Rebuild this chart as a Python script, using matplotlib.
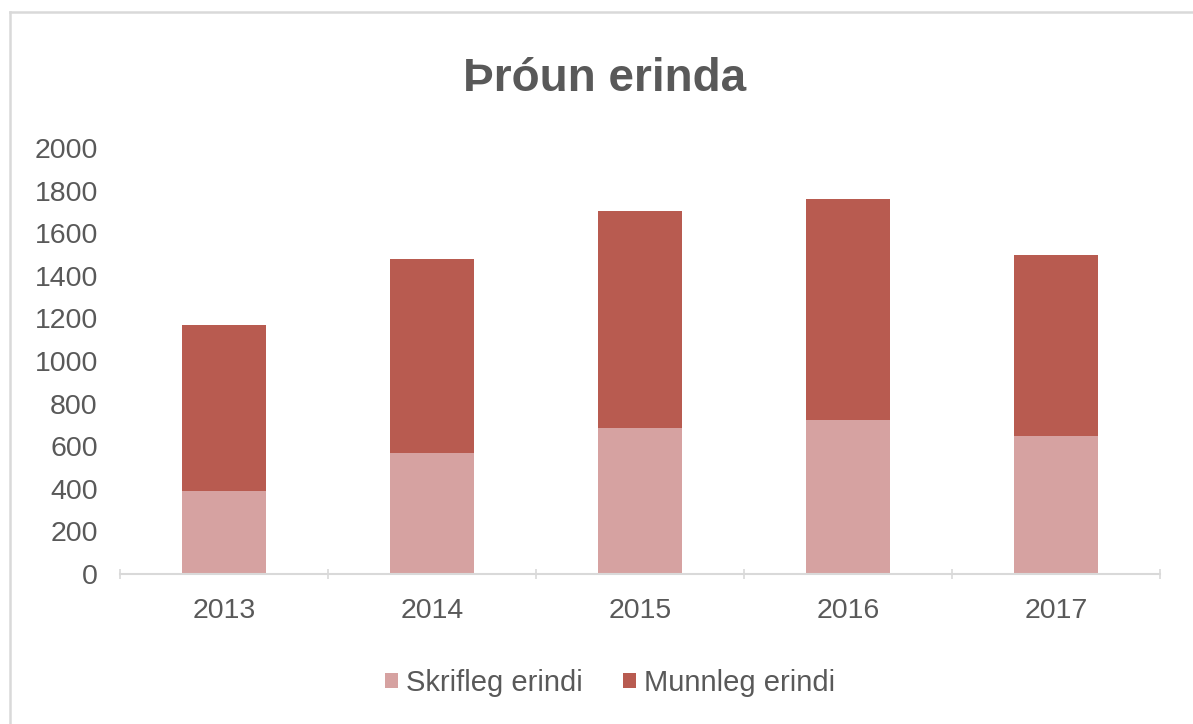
import matplotlib
matplotlib.use("Agg")
import matplotlib.pyplot as plt
from matplotlib.lines import Line2D
import numpy as np

plt.rcParams['font.family'] = ['Liberation Sans', 'DejaVu Sans']

years = ["2013", "2014", "2015", "2016", "2017"]
skrifleg = [391, 570, 684, 722, 646]
munnleg = [778, 909, 1019, 1037, 850]
yticks = [0, 200, 400, 600, 800, 1000, 1200, 1400, 1600, 1800, 2000]

light = "#D6A2A1"
dark = "#B85B50"
txt = "#595959"
axc = "#D9D9D9"

W, H = 1193, 724
fig = plt.figure(figsize=(W / 100, H / 100), dpi=100)
ax = fig.add_axes([120 / W, (H - 574) / H, 1040 / W, 426 / H])

x = np.arange(len(years))
ax.bar(x, skrifleg, width=0.4, color=light, label="Skrifleg erindi", zorder=2)
ax.bar(x, munnleg, width=0.4, bottom=skrifleg, color=dark, label="Munnleg erindi", zorder=2)

ax.set_xlim(-0.5, len(years) - 0.5)
ax.set_ylim(0, 2000)
ax.set_yticks(yticks)
ax.set_yticklabels([str(v) for v in yticks])
ax.set_xticks(x)
ax.set_xticklabels(years)
ax.set_xticks(np.arange(-0.5, len(years)), minor=True)

for s in ["top", "right", "left"]:
    ax.spines[s].set_visible(False)
ax.spines["bottom"].set_color(axc)
ax.spines["bottom"].set_linewidth(1.5)

ax.tick_params(axis="y", length=0, pad=16, labelsize=20.5, labelcolor=txt)
ax.tick_params(axis="x", which="major", length=0, pad=17, labelsize=20.5, labelcolor=txt)
ax.tick_params(axis="x", which="minor", direction="inout", length=7, width=1.2, color=axc)

fig.text(605 / W, 1 - 79 / H, "Þróun erinda", ha="center", va="center",
         fontsize=33, fontweight="bold", color=txt)

leg = fig.legend(loc="center", bbox_to_anchor=(610 / W, 1 - 683 / H), ncol=2,
                 frameon=False, fontsize=21, handlelength=0.45, handleheight=0.45,
                 handletextpad=0.25, columnspacing=1.4, labelcolor=txt)

fig.add_artist(Line2D([10 / W, 10 / W], [0, 1 - 12 / H], transform=fig.transFigure,
                      color=axc, linewidth=1.8))
fig.add_artist(Line2D([10 / W, 1], [1 - 12 / H, 1 - 12 / H], transform=fig.transFigure,
                      color=axc, linewidth=1.8))

fig.savefig("out.png", dpi=100, facecolor="white")
